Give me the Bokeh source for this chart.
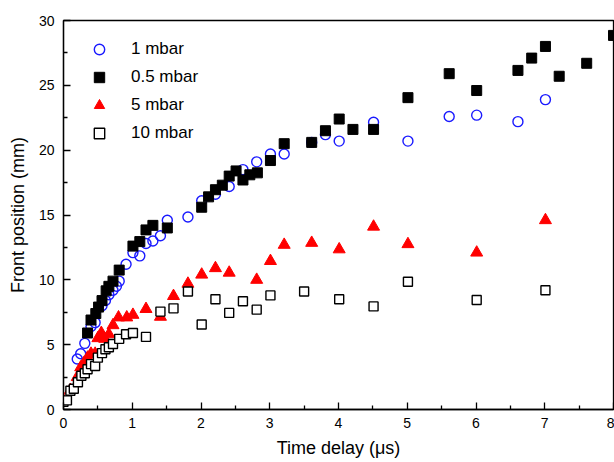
from bokeh.plotting import figure
from bokeh.models import Range1d, FixedTicker, Legend, LegendItem
from bokeh.embed import file_html
from bokeh.resources import INLINE

# 1 mbar (open blue circles)
t_1 = [0.2, 0.25, 0.31, 0.4, 0.46, 0.56, 0.61, 0.66, 0.72, 0.77, 0.81, 0.91, 1.01, 1.11,
       1.2, 1.3, 1.41, 1.51, 1.81, 2.01, 2.21, 2.41, 2.61, 2.81, 3.01, 3.21, 3.61, 3.81,
       4.01, 4.51, 5.01, 5.61, 6.01, 6.61, 7.01]
v_1 = [3.9, 4.3, 5.1, 6.4, 6.7, 8.0, 8.4, 8.85, 9.2, 9.5, 9.9, 11.2, 12.1, 11.85,
       12.8, 13.0, 13.4, 14.6, 14.85, 16.1, 16.6, 17.2, 18.5, 19.1, 19.7, 19.7, 20.6, 21.2,
       20.7, 22.15, 20.7, 22.6, 22.7, 22.2, 23.9]

# 0.5 mbar (filled black squares)
t_05 = [0.35, 0.40, 0.47, 0.51, 0.56, 0.62, 0.66, 0.72, 0.81, 1.01, 1.11, 1.20, 1.30, 1.51,
        2.01, 2.11, 2.21, 2.31, 2.41, 2.51, 2.61, 2.71, 2.82, 3.01, 3.21, 3.61, 3.81, 4.01,
        4.21, 4.51, 5.01, 5.61, 6.01, 6.61, 6.81, 7.01, 7.21, 7.61, 8.0]
v_05 = [5.9, 6.9, 7.4, 7.9, 8.4, 9.15, 9.5, 9.9, 10.75, 12.6, 12.95, 13.85, 14.2, 14.0,
        15.6, 16.4, 16.95, 17.3, 18.0, 18.4, 17.7, 18.1, 18.25, 19.2, 20.5, 20.6, 21.5, 22.4,
        21.6, 21.6, 24.05, 25.9, 24.6, 26.15, 27.1, 28.0, 25.7, 26.7, 28.85]

# 5 mbar (filled red triangles)
t_5 = [0.0, 0.1, 0.2, 0.25, 0.3, 0.35, 0.4, 0.46, 0.5, 0.55, 0.6, 0.66, 0.72, 0.8, 0.92,
       1.01, 1.2, 1.41, 1.6, 1.81, 2.01, 2.21, 2.41, 2.81, 3.01, 3.21, 3.61, 4.01, 4.51,
       5.01, 6.01, 7.01]
v_5 = [0.7, 1.5, 2.5, 3.25, 3.6, 4.0, 4.3, 4.3, 5.5, 5.9, 5.45, 5.8, 6.5, 7.1, 7.1,
       7.3, 7.75, 7.15, 8.75, 9.7, 10.4, 10.9, 10.55, 10.0, 11.45, 12.7, 12.85, 12.35, 14.1,
       12.75, 12.1, 14.6]

# 10 mbar (open black squares)
t_10 = [0.0, 0.05, 0.1, 0.15, 0.21, 0.26, 0.31, 0.35, 0.4, 0.46, 0.5, 0.56, 0.61, 0.66,
        0.72, 0.81, 0.91, 1.01, 1.2, 1.41, 1.6, 1.81, 2.01, 2.21, 2.41, 2.61, 2.81, 3.01,
        3.5, 4.01, 4.51, 5.01, 6.01, 7.01]
v_10 = [0.6, 0.7, 1.45, 1.6, 2.1, 2.6, 2.8, 3.1, 3.5, 3.35, 4.0, 4.35, 4.65, 4.8,
        5.05, 5.45, 5.8, 5.9, 5.6, 7.55, 7.8, 9.1, 6.55, 8.5, 7.45, 8.35, 7.7, 8.8,
        9.1, 8.5, 7.95, 9.85, 8.45, 9.2]

x_ticks = [0, 1, 2, 3, 4, 5, 6, 7, 8]
x_minor = [0.5, 1.5, 2.5, 3.5, 4.5, 5.5, 6.5, 7.5]
y_ticks = [0, 5, 10, 15, 20, 25, 30]
y_minor = [2.5, 7.5, 12.5, 17.5, 22.5, 27.5]

FONT = "Liberation Sans"

p = figure(width=614, height=462, output_backend="svg", toolbar_location=None,
           x_range=Range1d(0, 8), y_range=Range1d(0, 30),
           min_border_left=63, min_border_right=1, min_border_top=20, min_border_bottom=53)

p.xgrid.visible = False
p.ygrid.visible = False
p.outline_line_color = "black"
p.outline_line_width = 1.3

for ax in (p.xaxis[0], p.yaxis[0]):
    ax.axis_line_color = "black"
    ax.axis_line_width = 1.3
    ax.major_tick_in = 7
    ax.major_tick_out = 0
    ax.minor_tick_in = 4
    ax.minor_tick_out = 0
    ax.major_tick_line_color = "black"
    ax.minor_tick_line_color = "black"
    ax.major_tick_line_width = 1.3
    ax.minor_tick_line_width = 1.3
    ax.major_label_text_font = FONT
    ax.major_label_text_font_size = "14px"
    ax.major_label_text_color = "black"
    ax.axis_label_text_font = FONT
    ax.axis_label_text_font_size = "18px"
    ax.axis_label_text_font_style = "normal"
    ax.axis_label_text_color = "black"

p.xaxis[0].ticker = FixedTicker(ticks=x_ticks, minor_ticks=x_minor)
p.yaxis[0].ticker = FixedTicker(ticks=y_ticks, minor_ticks=y_minor)
p.xaxis[0].axis_label = "Time delay (\u03bcs)"
p.yaxis[0].axis_label = "Front position (mm)"
p.xaxis[0].major_label_standoff = 8
p.yaxis[0].major_label_standoff = 9
p.xaxis[0].axis_label_standoff = 7
p.yaxis[0].axis_label_standoff = 8

r1 = p.scatter(t_1, v_1, marker="circle", size=10, fill_color=None,
               line_color="#1a1aff", line_width=1.4)
r05 = p.scatter(t_05, v_05, marker="square", size=10, fill_color="black",
                line_color="black", line_width=1)
r5 = p.scatter(t_5, v_5, marker="triangle", size=12, fill_color="#ff0000",
               line_color="#ff0000", line_width=1)
r10 = p.scatter(t_10, v_10, marker="square", size=9, fill_color="white",
                line_color="black", line_width=1.4)

legend = Legend(items=[
    LegendItem(label="1 mbar", renderers=[r1]),
    LegendItem(label="0.5 mbar", renderers=[r05]),
    LegendItem(label="5 mbar", renderers=[r5]),
    LegendItem(label="10 mbar", renderers=[r10]),
], location=(23, 263))
legend.border_line_color = None
legend.background_fill_alpha = 0
legend.padding = 0
legend.margin = 0
legend.spacing = 2
legend.glyph_width = 26
legend.glyph_height = 26
legend.label_height = 20
legend.label_standoff = 19
legend.label_text_font = FONT
legend.label_text_font_size = "17px"
legend.label_text_color = "black"
p.add_layout(legend)

open("out.html", "w").write(file_html(p, INLINE))
